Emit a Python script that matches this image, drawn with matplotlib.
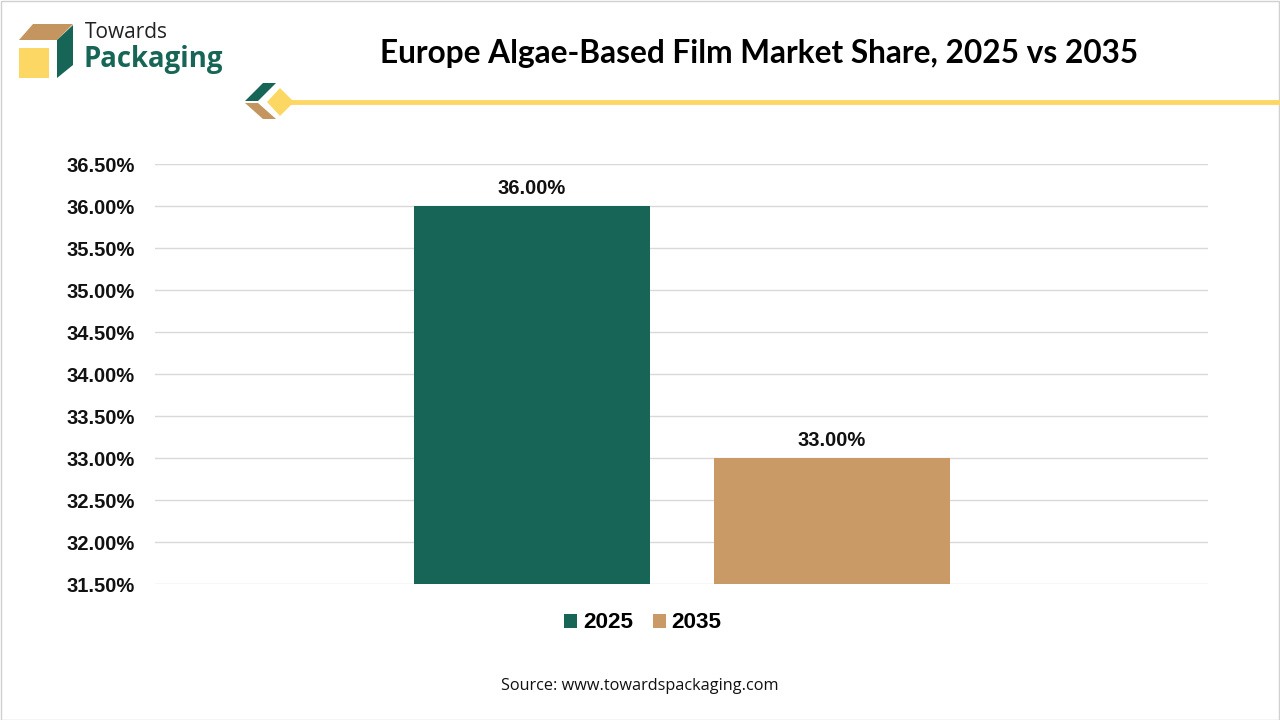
import matplotlib
matplotlib.use("Agg")
import matplotlib.pyplot as plt
from matplotlib.patches import Polygon, Rectangle

categories = ["2025", "2035"]
values = [36.00, 33.00]
colors = ["#176556", "#C99A66"]
yticks = [31.5, 32.0, 32.5, 33.0, 33.5, 34.0, 34.5, 35.0, 35.5, 36.0, 36.5]
title = "Europe Algae-Based Film Market Share, 2025 vs 2035"
source = "Source: www.towardspackaging.com"

W, H = 1280, 720
fig = plt.figure(figsize=(12.8, 7.2), dpi=100)
fig.patch.set_facecolor("white")

def fx(x):
    return x / W

def fy(y):
    return 1 - y / H

# axes placement (pixels)
left, right, top, bottom = 155, 1208, 164, 584
ax = fig.add_axes([fx(left), fy(bottom), fx(right) - fx(left), (bottom - top) / H])
ax.set_xlim(-0.5, 0.5)
ax.set_ylim(31.5, 36.5)

bw = 236 / (right - left)
offs = [-150 / (right - left), 150 / (right - left)]
for off, v, c, lab in zip(offs, values, colors, categories):
    ax.bar(off, v - 31.5, bottom=31.5, width=bw, color=c, label=lab, zorder=3)
    ax.text(off, v + 0.1, f"{v:.2f}%", ha="center", va="bottom",
            fontsize=14.5, fontweight="bold", family="Liberation Sans", color="#111111")

ax.set_yticks(yticks)
ax.set_yticklabels([f"{t:.2f}%" for t in yticks], fontsize=14.5, fontweight="bold",
                   family="Liberation Sans", color="#111111")
ax.tick_params(axis="y", length=0, pad=14.4)
ax.set_xticks([])
ax.grid(axis="y", color="#D9D9D9", linewidth=1, zorder=0)
for s in ax.spines.values():
    s.set_visible(False)

leg = fig.legend(loc="center", bbox_to_anchor=(fx(643), fy(623)), ncol=2, frameon=False,
                 prop={"family": "Liberation Sans", "weight": "bold", "size": 16.2},
                 handlelength=0.58, handleheight=0.58, handletextpad=0.27, columnspacing=0.85)

# title
fig.text(fx(759), fy(53), title, ha="center", va="center", fontsize=22.8,
         fontweight="bold", family="Lato", color="#000000")

# source
fig.text(fx(640), fy(686), source, ha="center", va="center", fontsize=11.7,
         family="Open Sans", color="#111111")

# logo
def poly(pts, color):
    fig.patches.append(Polygon([(fx(x), fy(y)) for x, y in pts], closed=True,
                               transform=fig.transFigure, facecolor=color,
                               edgecolor="none", figure=fig))

poly([(19, 40), (33, 24), (73, 24), (57, 40)], "#C4955F")
poly([(57, 40), (73, 25), (73, 65), (57, 78)], "#176556")
poly([(19, 48), (49, 48), (49, 78), (19, 78)], "#FDD764")
fig.text(fx(85), fy(33), "Towards", ha="left", va="center", fontsize=15,
         family="Open Sans", color="#222222")
fig.text(fx(84), fy(59), "Packaging", ha="left", va="center", fontsize=19.8,
         fontweight="bold", family="Open Sans", color="#176556")

# decorative line
fig.add_artist(plt.Line2D([fx(290), fx(1280)], [fy(101.5), fy(101.5)],
                          color="#FDD764", linewidth=3.5, transform=fig.transFigure))
poly([(245, 101), (263, 83), (276, 83), (258, 101)], "#176556")
poly([(245, 103), (258, 103), (276, 119), (263, 119)], "#C4955F")
poly([(280, 88), (294, 102), (280, 116), (267, 102)], "#FDD764")

# border
fig.patches.append(Rectangle((0.5 / W, 0.5 / H), 1 - 1.5 / W, 1 - 1.5 / H,
                             transform=fig.transFigure, facecolor="none",
                             edgecolor="#D0D0D0", linewidth=1, figure=fig))

fig.savefig("out.png", dpi=100)
